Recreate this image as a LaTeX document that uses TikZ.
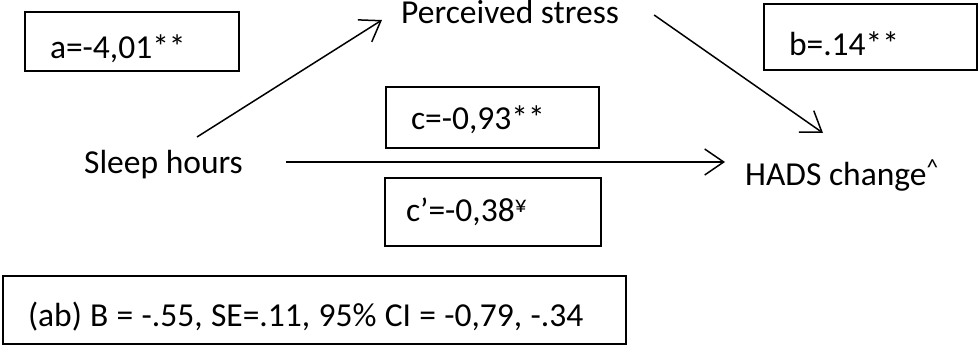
\documentclass[tikz,border=0pt]{standalone}
\usepackage{fontspec}
\setmainfont{Carlito}
\usetikzlibrary{arrows.meta}
\begin{document}
\begin{tikzpicture}[x=1pt,y=-1pt,
  every node/.style={font=\fontsize{33.5}{40}\selectfont, inner sep=0pt},
  valbox/.style={draw, line width=2pt, anchor=north west, inner xsep=25pt, inner ysep=0pt, align=left, text height=40pt, text depth=6.7pt},
  lbl/.style={anchor=base west},
  arr/.style={line width=1.5pt, -{Straight Barb[length=19pt,width=26pt]}}
]
\useasboundingbox (0,0) rectangle (978,345);
% labels
\node[lbl] (stress) at (401,24) {Perceived stress};
\node[lbl] (sleep) at (84,173) {Sleep hours};
\node[lbl] (hads) at (745,185) {HADS change\textsuperscript{\textasciicircum}};
% boxes
\node[valbox, minimum width=214pt, minimum height=59pt, text width=164pt] (abox) at (24,11) {\mbox{a=-4,01**}};
\node[valbox, minimum width=213pt, minimum height=66pt, text width=163pt, text height=44.5pt] (bbox) at (763,3) {\mbox{b=.14**}};
\node[valbox, minimum width=213pt, minimum height=61pt, text width=163pt, text height=30pt] (cbox) at (385,86) {\mbox{c=-0,93**}};
\node[valbox, minimum width=216pt, minimum height=68pt, text width=174pt, inner xsep=21pt, text height=24.8pt] (cpbox) at (384,177) {\mbox{c’=-0,38\textsuperscript{¥}}};
\node[valbox, minimum width=623pt, minimum height=68pt, text width=573pt] (abbox) at (2,275) {\spaceskip=8.3pt\mbox{(ab) B = -.55, SE=.11, 95\% CI = -0,79, -.34}};
% connectors
\draw[arr] ([xshift=113pt,yshift=36pt]sleep.base west) -- ([xshift=-19pt,yshift=4pt]stress.base west);
\draw[arr] ([xshift=43pt,yshift=11pt]sleep.base east) -- ([xshift=-20pt,yshift=23pt]hads.base west);
\draw[arr] ([xshift=35pt,yshift=9pt]stress.base east) -- ([xshift=78pt,yshift=52pt]hads.base west);
\end{tikzpicture}
\end{document}
